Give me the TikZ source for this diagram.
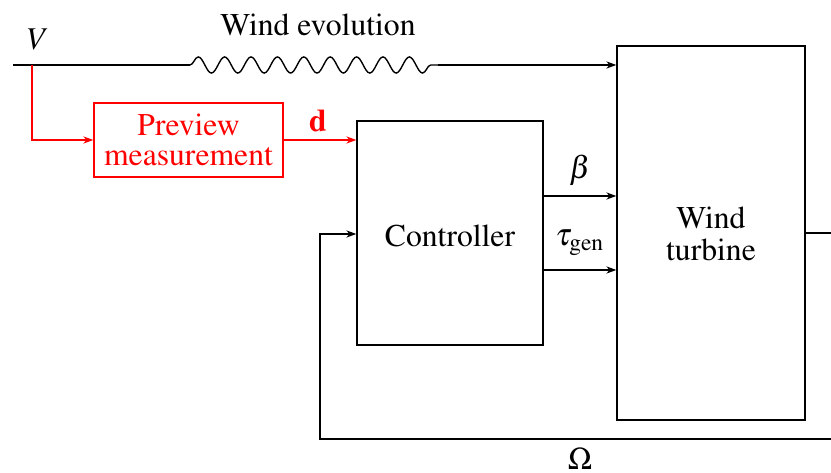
\documentclass[tikz,border=0pt]{standalone}
\usepackage[T1]{fontenc}
\usepackage{mathptmx}
\usetikzlibrary{arrows.meta,decorations.pathmorphing}
\begin{document}
\begin{tikzpicture}[x=0.36pt,y=-0.36pt,
  every node/.style={font=\fontsize{11.4}{12.6}\selectfont},
  blk/.style={draw,line width=0.5pt,inner sep=0pt},
  conn/.style={line width=0.5pt,-{Stealth[length=3.6pt,width=2.6pt]}},
  plain/.style={line width=0.5pt},
  wavy/.style={line width=0.5pt,decorate,decoration={snake,amplitude=2.9pt,segment length=9.5pt}},
  prev/.style={red}]
\useasboundingbox (0,0) rectangle (831,473);
% blocks
\node[blk,prev,minimum width=189*0.36pt,minimum height=74*0.36pt,align=center,text=red] (pm) at (188.5,140) {Preview\\[-1.5pt]measurement};
\node[blk,minimum width=186*0.36pt,minimum height=224*0.36pt] (ctrl) at (450,233) {};
\node (ctrltxt) at (450,236) {Controller};
\node[blk,minimum width=188*0.36pt,minimum height=374*0.36pt] (wt) at (711,233) {};
\node[align=center] (wttxt) at (711,234) {Wind\\[-1pt]turbine};
% coordinates
\coordinate (vin) at (13,65);
\coordinate (vsplit) at (32,65);
\coordinate (w1) at (190,65);
\coordinate (w2) at (438,65);
\coordinate (wtin) at (wt.west |- 0,65);
\coordinate (pmcorner) at (32,140);
\coordinate (ctrlin) at (ctrl.west |- 0,140);
\coordinate (outend) at (831,233);
\coordinate (fbr) at (831,439);
\coordinate (fbl) at (320,439);
\coordinate (fbu) at (320,234);
\coordinate (ctrlfb) at (ctrl.west |- 0,234);
\coordinate (b1) at (ctrl.east |- 0,196);
\coordinate (b2) at (wt.west |- 0,196);
\coordinate (t1) at (ctrl.east |- 0,270);
\coordinate (t2) at (wt.west |- 0,270);
% connectors
\draw[plain] (vin) -- (w1);
\draw[wavy] (w1) -- (w2);
\draw[conn] (w2) -- (wtin);
\draw[conn,red] (vsplit) -- (pmcorner) -- (pm.west);
\draw[conn,red] (pm.east) -- (ctrlin);
\draw[conn] (b1) -- (b2);
\draw[conn] (t1) -- (t2);
\draw[plain] (wt.east |- outend) -- (outend);
\draw[conn] (fbr) -- (fbl) -- (fbu) -- (ctrlfb);
% labels
\node (lv) at (38,40) {$V$};
\node (lwe) at (318,25) {Wind evolution};
\node[text=red] (ld) at (318,121) {$\mathbf{d}$};
\node (lb) at (580,170) {$\beta$};
\node (lt) at (580,243) {$\tau_{\mathrm{gen}}$};
\node[anchor=base,inner sep=0pt] (lo) at (580,469) {$\Omega$};
\end{tikzpicture}
\end{document}
